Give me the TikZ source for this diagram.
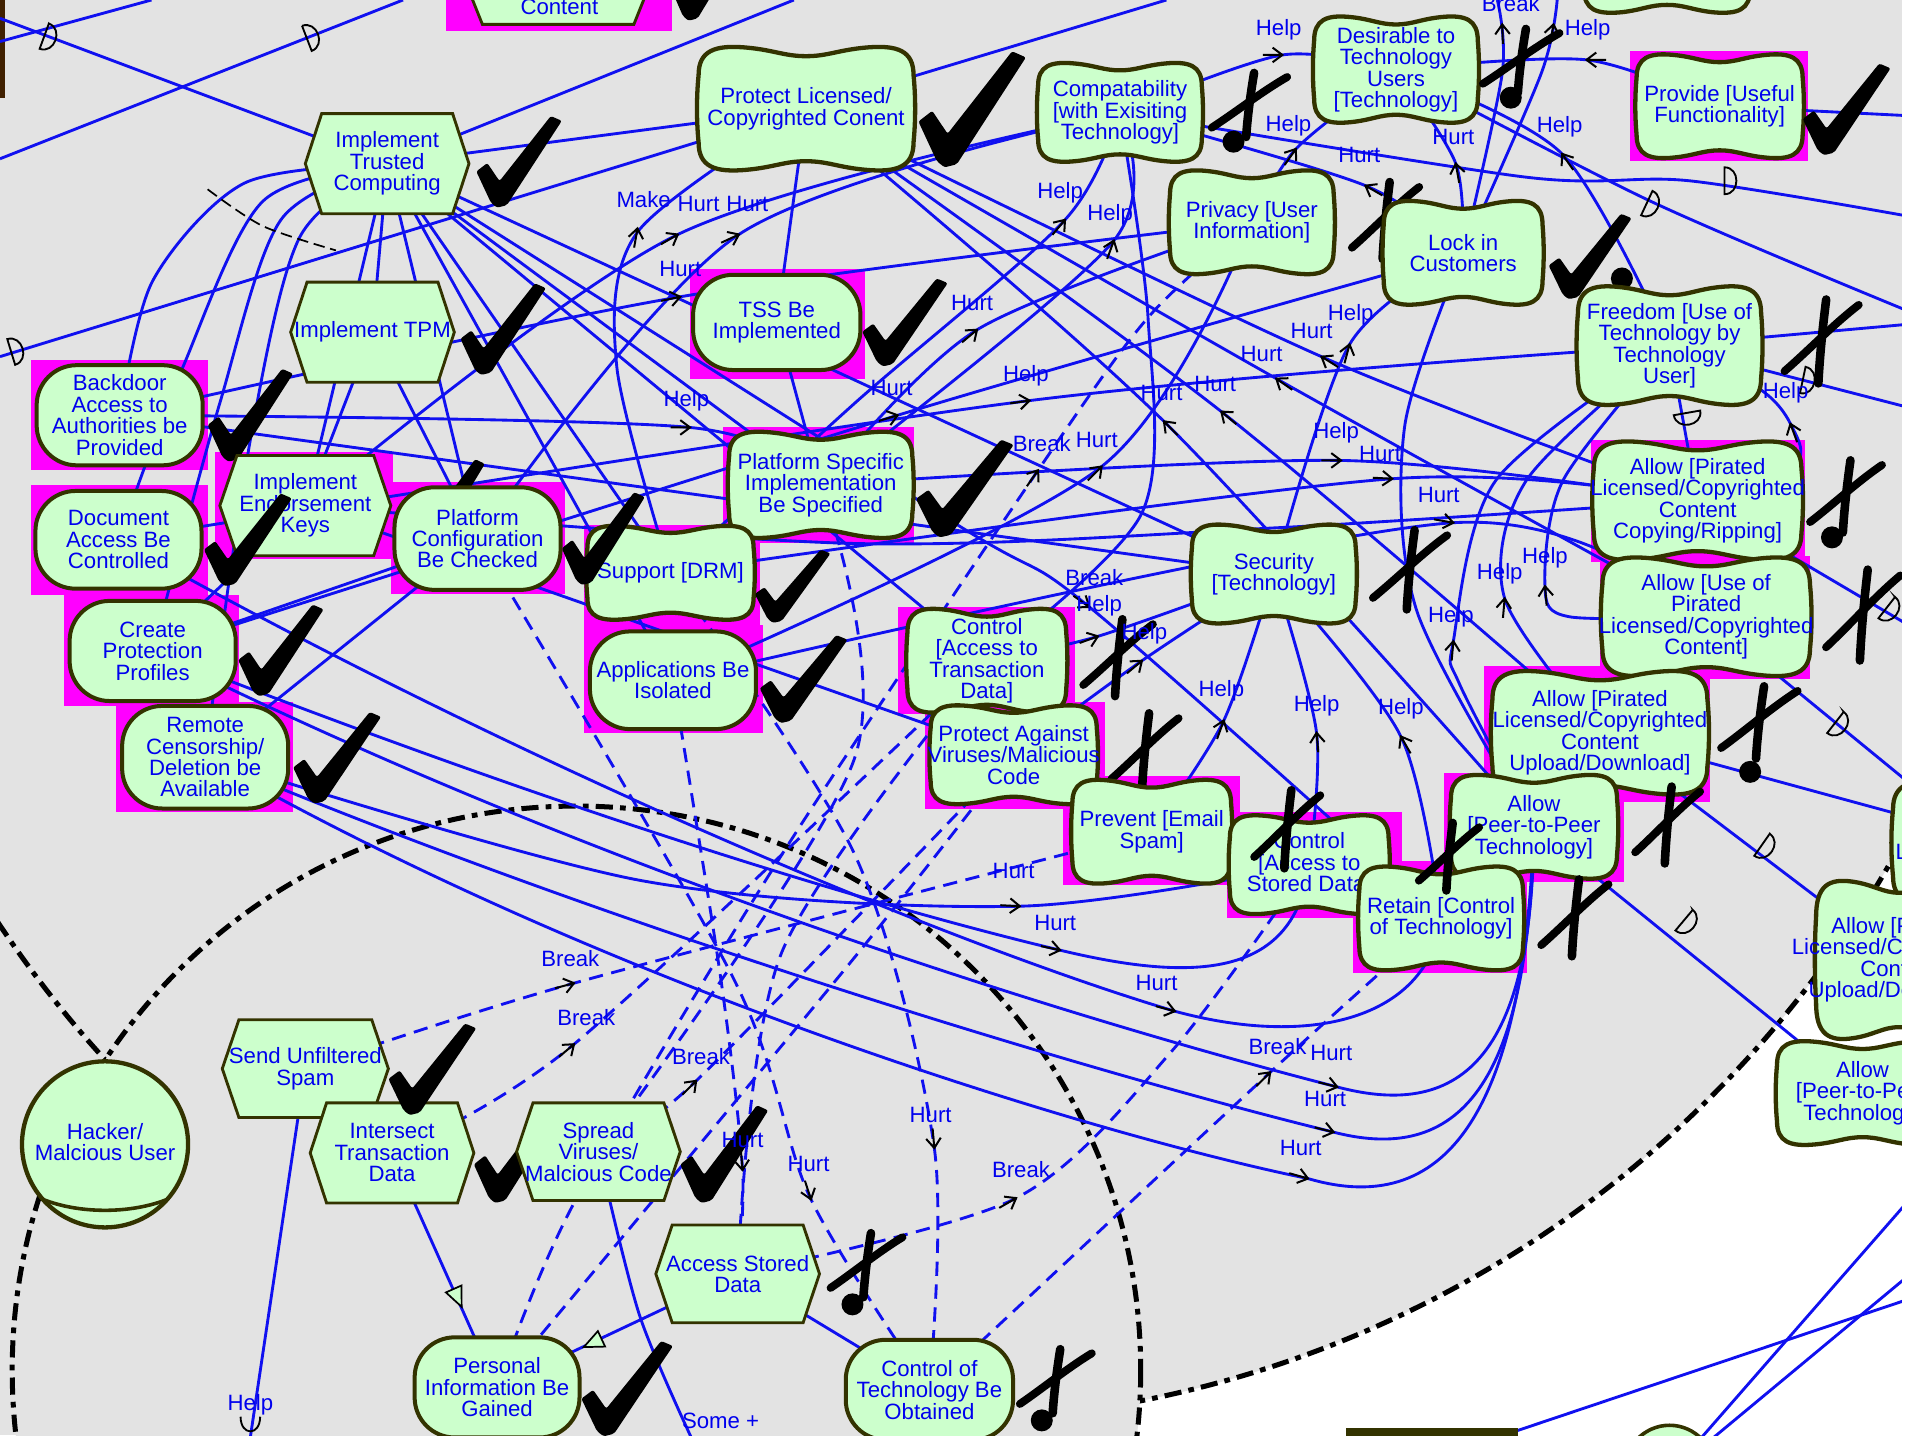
\documentclass[tikz,border=0pt]{standalone}
\usepackage{fontspec}
\setmainfont{Liberation Sans}
\pgfdeclarelayer{bgfill}
\pgfdeclarelayer{lines}
\pgfdeclarelayer{top}
\pgfsetlayers{bgfill,lines,main,top}
\definecolor{bgray}{HTML}{E3E3E3}
\definecolor{nfill}{HTML}{CCFFCC}
\definecolor{nborder}{HTML}{333300}
\definecolor{mag}{HTML}{FF00FF}
\definecolor{lblue}{HTML}{1010F0}
\definecolor{tblue}{HTML}{0000EE}
\tikzset{
 txt/.style={font=\fontsize{15.5}{15}\selectfont, text=tblue, align=center, inner sep=0pt},
 lab/.style={font=\fontsize{15.5}{15}\selectfont, text=tblue, inner sep=0pt},
 con/.style={draw=lblue, line width=2pt},
 dcon/.style={draw=lblue, line width=2pt, dash pattern=on 10pt off 6pt},
 sgshape/.style={fill=nfill, draw=nborder, line width=3pt},
 goalshape/.style={fill=nfill, draw=nborder, line width=2.8pt, rounded corners=28pt},
 taskshape/.style={fill=nfill, draw=nborder, line width=2pt},
 bound/.style={draw=black, line width=3.5pt, dash pattern=on 12pt off 5pt on 4pt off 5pt},
}
\newcommand\sgnode[6]{%
  \path[sgshape,shift={(#2,#3)}] ({-#4},{-0.55*#5})
   .. controls ({-#4},{-0.95*#5}) and ({-0.85*#4},{-1.05*#5}) .. ({-0.55*#4},{-#5})
   .. controls ({-0.3*#4},{-0.96*#5}) and ({-0.2*#4},{-0.86*#5}) .. (0,{-0.86*#5})
   .. controls ({0.2*#4},{-0.86*#5}) and ({0.3*#4},{-0.96*#5}) .. ({0.55*#4},{-#5})
   .. controls ({0.85*#4},{-1.05*#5}) and ({#4},{-0.95*#5}) .. ({#4},{-0.55*#5})
   .. controls ({1.02*#4},{-0.2*#5}) and ({1.02*#4},{0.2*#5}) .. ({#4},{0.55*#5})
   .. controls ({#4},{0.95*#5}) and ({0.85*#4},{1.05*#5}) .. ({0.55*#4},{#5})
   .. controls ({0.3*#4},{0.96*#5}) and ({0.2*#4},{0.86*#5}) .. (0,{0.86*#5})
   .. controls ({-0.2*#4},{0.86*#5}) and ({-0.3*#4},{0.96*#5}) .. ({-0.55*#4},{#5})
   .. controls ({-0.85*#4},{1.05*#5}) and ({-#4},{0.95*#5}) .. ({-#4},{0.55*#5})
   .. controls ({-1.02*#4},{0.2*#5}) and ({-1.02*#4},{-0.2*#5}) .. cycle;
  \node[txt] (#1) at (#2,#3) {#6};}
\newcommand\goalnode[6]{%
  \path[goalshape] ({#2-#4/2},{#3-#5/2}) rectangle ({#2+#4/2},{#3+#5/2});
  \node[txt] (#1) at (#2,#3) {#6};}
\newcommand\tasknode[6]{%
  \path[taskshape,shift={(#2,#3)}] ({-#4},0) -- ({-0.8*#4},{-#5}) -- ({0.8*#4},{-#5}) -- ({#4},0) -- ({0.8*#4},{#5}) -- ({-0.8*#4},{#5}) -- cycle;
  \node[txt] (#1) at (#2,#3) {#6};}
\newcommand\magbox[4]{\begin{pgfonlayer}{bgfill}\fill[mag] (#1,#2) rectangle (#3,#4);\end{pgfonlayer}}
\newcommand\chk[4]{%
  \fill[black, shift={(#1,#2)}, xscale=#3/70, yscale=#4/76, rounded corners=1.5pt]
   (0,46) -- (9,39) -- (19,54) -- (61,0) -- (70,4) -- (25,74) -- (17,76) -- (12,72) -- cycle;}
\newcommand\crs[4]{%
  \begin{scope}[shift={(#1,#2)}, xscale=#3/60, yscale=#4/65]
  \draw[black, line width=6pt, line cap=round] (34,2) .. controls (31,25) and (29,45) .. (28,64);
  \draw[black, line width=5.5pt, line cap=round] (59,6) .. controls (40,20) and (20,40) .. (2,55);
  \end{scope}}
\newcommand\bdot[2]{\fill[black] (#1,#2) circle (9);}
\newcommand\dmk[3]{\draw[black, line width=1.3pt, rotate around={#3:(#1,#2)}] ({#1-4},{#2-11}) -- ({#1-4},{#2+11}) .. controls ({#1+9},{#2+11}) and ({#1+9},{#2-11}) .. cycle;}
\newcommand\carr[3]{\draw[black, line width=1.4pt, rotate around={#3:(#1,#2)}] ({#1-16},#2) -- (#1,#2) ({#1-8},{#2-6}) -- (#1,#2) -- ({#1-8},{#2+6});}
\newcommand\mtri[3]{\filldraw[fill=nfill, draw=black, line width=1.2pt, rotate around={#3:(#1,#2)}] (#1,#2) -- ({#1-16},{#2-7}) -- ({#1-16},{#2+7}) -- cycle;}
\begin{document}
\begin{tikzpicture}[x=0.03cm,y=-0.03cm]
\useasboundingbox (0,0) rectangle (1568,1175);
% ---------- backgrounds
\begin{pgfonlayer}{bgfill}
\fill[white] (0,0) rectangle (1568,1175);
\fill[bgray] (758,254) circle (910);
\fill[bgray] (0,700) rectangle (472,1175);
\draw[bound] (758,254) circle (910);
\fill[bgray] (472,1122) circle (462);
\draw[bound] (472,1122) circle (462);
\fill[black!75!orange] (0,0) rectangle (4,80);
\end{pgfonlayer}
% ---------- nodes
\magbox{365}{-60}{550}{25}
\path[taskshape,shift={(457,-20)}] (-78,0) -- (-62,-40) -- (62,-40) -- (78,0) -- (62,40) -- (-62,40) -- cycle;
\node[txt] (Cont) at (458,6) {Content};
\chk{548}{-58}{65}{75}
\path[sgshape,shift={(1365,-32)}] (-68,-23) .. controls (-68,-40) and (-58,-44) .. (-37,-42) .. controls (-20,-40) and (-14,-36) .. (0,-36) .. controls (14,-36) and (20,-40) .. (37,-42) .. controls (58,-44) and (68,-40) .. (68,-23) -- (68,23) .. controls (68,40) and (58,44) .. (37,42) .. controls (20,40) and (14,36) .. (0,36) .. controls (-14,36) and (-20,40) .. (-37,42) .. controls (-58,44) and (-68,40) .. (-68,23) -- cycle;
\coordinate (TopR) at (1365,-32);

\sgnode{PL}{660}{89}{88}{50}{Protect Licensed/\\Copyrighted Conent}
\chk{752}{42}{88}{95}
\tasknode{ITC}{317}{134}{67}{41}{Implement\\Trusted\\Computing}
\chk{390}{95}{70}{75}
\tasknode{TPM}{305}{272}{67}{41}{Implement TPM}
\chk{377}{232}{70}{75}
\sgnode{Compat}{917}{92}{67}{40}{Compatability\\{}[with Exisiting\\Technology]}
\crs{990}{58}{65}{55}\bdot{1010}{116}
\sgnode{Desir}{1143}{57}{67}{43}{Desirable to\\Technology\\Users\\{}[Technology]}
\crs{1212}{22}{66}{55}\bdot{1237}{80}
\magbox{1335}{42}{1480}{132}
\sgnode{Provide}{1408}{87}{68}{42}{Provide [Useful\\Functionality]}
\chk{1476}{52}{72}{75}
\sgnode{Privacy}{1025}{182}{67}{42}{Privacy [User\\Information]}
\crs{1105}{147}{58}{66}
\sgnode{LockIn}{1198}{207}{65}{42}{Lock in\\Customers}
\chk{1268}{175}{68}{70}\bdot{1328}{228}
\sgnode{Freedom}{1367}{283}{75}{48}{Freedom [Use of\\Technology by\\Technology\\User]}
\crs{1459}{243}{64}{72}
\magbox{565}{220}{708}{310}
\goalnode{TSS}{636}{264}{137}{78}{TSS Be\\Implemented}
\chk{706}{228}{70}{72}
\magbox{25}{295}{170}{385}
\goalnode{Backdoor}{98}{340}{136}{82}{Backdoor\\Access to\\Authorities be\\Provided}
\chk{170}{302}{70}{76}
\magbox{176}{370}{322}{458}
\tasknode{IEK}{250}{414}{70}{41}{Implement\\Endorsement\\Keys}
\chk{335}{376}{62}{72}
\magbox{592}{350}{748}{445}
\sgnode{PSI}{672}{397}{75}{43}{Platform Specific\\Implementation\\Be Specified}
\chk{750}{360}{80}{80}
\magbox{478}{430}{622}{513}
\sgnode{DRM}{549}{469}{68}{38}{Support [DRM]}
\chk{618}{450}{62}{60}
\magbox{478}{512}{625}{600}
\goalnode{Apps}{551}{557}{136}{80}{Applications Be\\Isolated}
\chk{622}{520}{72}{72}
\magbox{320}{395}{463}{486}
\goalnode{PCB}{391}{441}{136}{84}{Platform\\Configuration\\Be Checked}
\chk{460}{403}{68}{76}
\magbox{25}{397}{170}{487}
\goalnode{DocAcc}{97}{442}{136}{80}{Document\\Access Be\\Controlled}
\chk{167}{404}{72}{76}
\magbox{52}{487}{196}{578}
\goalnode{CPP}{125}{533}{136}{82}{Create\\Protection\\Profiles}
\chk{195}{495}{70}{75}
\magbox{95}{575}{240}{665}
\goalnode{RCD}{168}{620}{136}{84}{Remote\\Censorship/\\Deletion be\\Available}
\chk{240}{583}{72}{75}
\sgnode{Security}{1043}{470}{67}{40}{Security\\{}[Technology]}
\crs{1122}{432}{64}{68}
\magbox{735}{497}{880}{585}
\sgnode{CtrlTrans}{808}{541}{65}{42}{Control\\{}[Access to\\Transaction\\Data]}
\crs{885}{505}{60}{66}
\magbox{757}{575}{905}{662}
\sgnode{PAV}{830}{618}{68}{40}{Protect Against\\Viruses/Malicious\\Code}
\crs{908}{582}{58}{66}
\magbox{1303}{360}{1478}{460}
\sgnode{Copy}{1390}{410}{85}{48}{Allow [Pirated\\Licensed/Copyrighted\\Content\\Copying/Ripping]}
\magbox{1310}{455}{1482}{556}
\sgnode{Use}{1397}{505}{85}{48}{Allow [Use of\\Pirated\\Licensed/Copyrighted\\Content]}
\magbox{1215}{545}{1400}{657}
\sgnode{Upload}{1310}{600}{88}{50}{Allow [Pirated\\Licensed/Copyrighted\\Content\\Upload/Download]}
\crs{1480}{375}{62}{62}\bdot{1500}{440}
\crs{1493}{464}{64}{78}
\crs{1407}{560}{66}{62}\bdot{1433}{632}
\magbox{870}{635}{1015}{725}
\sgnode{Spam}{943}{681}{65}{42}{Prevent [Email\\Spam]}
\magbox{1005}{665}{1148}{752}
\sgnode{CtrlStored}{1072}{708}{65}{40}{Control\\{}[Access to\\Stored Data]}
\magbox{1182}{633}{1330}{722}
\sgnode{P2P}{1256}{677}{68}{42}{Allow\\{}[Peer-to-Peer\\Technology]}
\magbox{1108}{705}{1250}{797}
\sgnode{Retain}{1180}{752}{67}{42}{Retain [Control\\of Technology]}
\crs{1025}{645}{57}{67}
\crs{1160}{672}{52}{58}
\crs{1337}{642}{56}{66}
\crs{1260}{718}{58}{66}
\sgnode{RightC}{1640}{690}{90}{50}{Allow [Use of\\Pirated\\Licensed/Copyrighted\\Content]}
\sgnode{RightA}{1555}{786}{68}{64}{Allow [Pirated\\Licensed/Copyrighted\\Content\\Upload/Download]}
\sgnode{RightB}{1525}{895}{70}{42}{Allow\\{}[Peer-to-Peer\\Technology]}
\path[fill=nfill,draw=nborder,line width=3pt] (86,937) circle (68);
\draw[nborder,line width=2.5pt] (35,982) .. controls (65,994) and (107,994) .. (137,982);
\node[txt] (Hacker) at (86,935) {Hacker/\\Malcious User};
\tasknode{SUS}{250}{875}{68}{40}{Send Unfiltered\\Spam}
\tasknode{ITD}{321}{944}{67}{41}{Intersect\\Transaction\\Data}
\chk{318}{838}{72}{75}
\chk{388}{905}{72}{80}
\tasknode{SVM}{490}{943}{67}{40}{Spread\\Viruses/\\Malcious Code}
\chk{557}{905}{72}{80}
\tasknode{ASD}{604}{1043}{67}{40}{Access Stored\\Data}
\crs{678}{1008}{62}{55}\bdot{698}{1068}
\goalnode{PIG}{407}{1136}{135}{82}{Personal\\Information Be\\Gained}
\chk{476}{1098}{75}{78}
\goalnode{CTO}{761}{1138}{137}{82}{Control of\\Technology Be\\Obtained}
\crs{833}{1103}{62}{55}\bdot{853}{1163}
\fill[nborder] (1102,1169) rectangle (1243,1180);
\coordinate (BotR) at (1172,1195);
\path[fill=nfill,draw=nborder,line width=2.5pt] (1367,1207) ellipse (38 and 40);
\coordinate (BotC) at (1367,1207);
% ---------- edge coordinates
\coordinate (e1) at (0,15);
\coordinate (e2) at (0,130);
\coordinate (e3) at (330,0);
\coordinate (e4) at (0,34);
\coordinate (e5) at (124,0);
\coordinate (e6) at (0,292);
\coordinate (e7) at (650,0);
\coordinate (e8) at (955,0);
\coordinate (e9) at (1226,0);
\coordinate (e10) at (1275,0);
\coordinate (e11) at (1568,178);
\coordinate (e12) at (1568,257);
\coordinate (e13) at (1568,265);
\coordinate (e14) at (1568,335);
\coordinate (e15) at (1568,95);
\coordinate (e16) at (1568,515);
\coordinate (e17) at (1568,645);
\coordinate (e18) at (203,1190);
\coordinate (e19) at (572,1190);
\coordinate (e20) at (1568,977);
\coordinate (e21) at (1568,1040);
\coordinate (e22) at (1568,1062);
% ---------- connectors
\begin{pgfonlayer}{lines}
\draw[con] (e1) -- (ITC.center);
\draw[con] (e2) -- (e3);
\draw[con] (e4) -- (e5);
\draw[con] (e6) -- (PL.center);
\draw[con] (ITC.center) -- (e7);
\draw[con] (ITC.center) -- (PL.center);
\draw[con] (PL.center) -- (TSS.center);
\draw[con] (TSS.center) -- (PSI.center);
\draw[con] (PL.center) -- (e8);
\draw[con] (ITC.center) -- (TPM.center);
\draw[con] plot[smooth] coordinates {(ITC.center) (200,150) (125,230) (Backdoor.center)};
\draw[con] plot[smooth] coordinates {(ITC.center) (215,165) (150,300) (DocAcc.center)};
\draw[con] plot[smooth] coordinates {(ITC.center) (230,180) (180,330) (CPP.center)};
\draw[con] plot[smooth] coordinates {(ITC.center) (245,195) (205,360) (RCD.center)};
\draw[con] (ITC.center) -- (IEK.center);
\draw[con] (ITC.center) -- (PCB.center);
\draw[con] (ITC.center) -- (PSI.center);
\draw[con] (ITC.center) -- (DRM.center);
\draw[con] (ITC.center) -- (Apps.center);
\draw[con] (ITC.center) -- (Security.center);
\draw[con] (ITC.center) -- (CtrlTrans.center);
\draw[con] plot[smooth] coordinates {(ITC.center) (778,426) (892,497) (Retain.center)};
\draw[con] (TPM.center) -- (IEK.center);
\draw[con] (TPM.center) -- (PCB.center);
\draw[con] plot[smooth] coordinates {(DRM.center) (505,300) (522,190) (PL.center)};
\draw[con] plot[smooth] coordinates {(IEK.center) (555,192) (Compat.center)};
\draw[con] plot[smooth] coordinates {(PCB.center) (605,192) (Compat.center)};
\draw[con] plot[smooth] coordinates {(Backdoor.center) (557,243) (Privacy.center)};
\draw[con] plot[smooth] coordinates {(Backdoor.center) (565,350) (PSI.center)};
\draw[con] plot[smooth] coordinates {(CPP.center) (735,340) (LockIn.center)};
\draw[con] plot[smooth] coordinates {(DocAcc.center) (843,328) (Freedom.center)};
\draw[con] plot[smooth] coordinates {(PSI.center) (800,270) (Privacy.center)};
\draw[con] plot[smooth] coordinates {(DRM.center) (700,330) (872,180) (Compat.center)};
\draw[con] plot[smooth] coordinates {(PSI.center) (912,197) (Compat.center)};
\draw[con] plot[smooth] coordinates {(Apps.center) (902,382) (Privacy.center)};
\draw[con] plot[smooth] coordinates {(P2P.center) (953,345) (PL.center)};
\draw[con] plot[smooth] coordinates {(Upload.center) (1000,337) (PL.center)};
\draw[con] plot[smooth] coordinates {(Use.center) (1045,310) (PL.center)};
\draw[con] plot[smooth] coordinates {(Copy.center) (1082,292) (PL.center)};
\draw[con] plot[smooth] coordinates {(Security.center) (1105,282) (LockIn.center)};
\draw[con] plot[smooth] coordinates {(PSI.center) (1098,377) (Copy.center)};
\draw[con] plot[smooth] coordinates {(DRM.center) (1140,392) (Copy.center)};
\draw[con] plot[smooth] coordinates {(Apps.center) (1190,428) (Use.center)};
\draw[con] plot[smooth] coordinates {(Copy.center) (1470,380) (1466,347) (1440,318) (Freedom.center)};
\draw[con] plot[smooth] coordinates {(Upload.center) (1232,490) (1250,393) (Freedom.center)};
\draw[con] plot[smooth] coordinates {(Use.center) (1285,505) (1265,480) (1280,393) (Freedom.center)};
\draw[con] plot[smooth] coordinates {(P2P.center) (1195,560) (1190,525) (1225,393) (Freedom.center)};
\draw[con] plot[smooth] coordinates {(Spam.center) (1002,590) (Security.center)};
\draw[con] plot[smooth] coordinates {(CtrlStored.center) (1078,600) (Security.center)};
\draw[con] plot[smooth] coordinates {(Retain.center) (1147,603) (Security.center)};
\draw[con] plot[smooth] coordinates {(CtrlTrans.center) (899,521) (Security.center)};
\draw[con] plot[smooth] coordinates {(PAV.center) (935,541) (Security.center)};
\draw[con] plot[smooth] coordinates {(Compat.center) (1050,45) (Desir.center)};
\draw[con] plot[smooth] coordinates {(Privacy.center) (1061,122) (Desir.center)};
\draw[con] plot[smooth] coordinates {(LockIn.center) (1118,152) (Compat.center)};
\draw[con] plot[smooth] coordinates {(LockIn.center) (1192,134) (Desir.center)};
\draw[con] plot[smooth] coordinates {(Freedom.center) (1279,126) (Desir.center)};
\draw[con] plot[smooth] coordinates {(Provide.center) (1299,49) (Desir.center)};
\draw[con] plot[smooth] coordinates {(LockIn.center) (1230,60) (e9)};
\draw[con] plot[smooth] coordinates {(LockIn.center) (1262,60) (e10)};
\draw[con] plot[smooth] coordinates {(Compat.center) (1249,145) (1383,148) (e11)};
\draw[con] plot[smooth] coordinates {(Desir.center) (1352,165) (e12)};
\draw[con] (Freedom.center) -- (e13);
\draw[con] (Freedom.center) -- (e14);
\draw[con] (Provide.center) -- (e15);
\draw[con] (Freedom.center) -- (Copy.center);
\draw[con] (Copy.center) -- (e16);
\draw[con] (Use.center) -- (e17);
\draw[con] (Upload.center) -- (RightA.center);
\draw[con] (P2P.center) -- (RightB.center);
\draw[con] (Upload.center) -- (RightC.center);
\draw[con] plot[smooth] coordinates {(LockIn.center) (1150,350) (1160,500) (P2P.center)};
\draw[con] plot[smooth] coordinates {(Compat.center) (940,260) (935,420) (CtrlTrans.center)};
\draw[con] (PCB.center) -- (CPP.center);
\draw[con] (PCB.center) -- (RCD.center);
\draw[con] (IEK.center) -- (CPP.center);
\draw[con] (IEK.center) -- (PAV.center);
\draw[con] (Backdoor.center) -- (Security.center);
\draw[con] plot[smooth] coordinates {(IEK.center) (700,445) (1048,432) (Copy.center)};
\draw[con] plot[smooth] coordinates {(RCD.center) (525,721) (835,742) (CtrlStored.center)};
\draw[con] (CPP.center) .. controls (500,680) and (750,750) .. (868,778) .. controls (980,805) and (1060,800) .. (CtrlStored.center);
\draw[con] (DocAcc.center) .. controls (450,640) and (800,780) .. (962,828) .. controls (1080,860) and (1170,830) .. (Retain.center);
\draw[con] (CPP.center) .. controls (500,720) and (900,840) .. (1095,890) .. controls (1200,918) and (1255,860) .. (P2P.center);
\draw[con] (RCD.center) .. controls (500,760) and (900,880) .. (1092,927) .. controls (1200,955) and (1252,880) .. (P2P.center);
\draw[con] (RCD.center) .. controls (500,810) and (900,930) .. (1071,965) .. controls (1190,1000) and (1248,900) .. (P2P.center);
\draw[dcon] plot[smooth] coordinates {(SUS.center) (470,805) (Spam.center)};
\draw[dcon] plot[smooth] coordinates {(ITD.center) (470,855) (CtrlTrans.center)};
\draw[dcon] plot[smooth] coordinates {(SVM.center) (570,885) (PAV.center)};
\draw[dcon] plot[smooth] coordinates {(Apps.center) (590,800) (608,958) (ASD.center)};
\draw[dcon] plot[smooth] coordinates {(PCB.center) (600,800) (664,982) (CTO.center)};
\draw[dcon] plot[smooth] coordinates {(DRM.center) (700,700) (765,940) (CTO.center)};
\draw[dcon] plot[smooth] coordinates {(ASD.center) (832,981) (960,860) (CtrlStored.center)};
\draw[dcon] plot[smooth] coordinates {(CTO.center) (1040,878) (Retain.center)};
\draw[dcon] plot[smooth] coordinates {(PIG.center) (470,985) (640,700) (850,385) (940,260) (Privacy.center)};
\draw[dcon] plot[smooth] coordinates {(SVM.center) (700,620) (PSI.center)};
\draw[dcon] plot[smooth] coordinates {(ASD.center) (640,780) (CtrlTrans.center)};
\draw[dcon] plot[smooth] coordinates {(PIG.center) (698,786) (PAV.center)};
\draw[con] (ITD.center) -- (PIG.center);
\draw[con] (ASD.center) -- (PIG.center);
\draw[con] (ASD.center) -- (CTO.center);
\draw[con] (SUS.center) -- (e18);
\draw[con] plot[smooth] coordinates {(SVM.center) (524,1078) (e19)};
\draw[con] (e20) -- (BotC);
\draw[con] (e21) -- (BotC);
\draw[con] (e22) -- (BotR);
\end{pgfonlayer}
% ---------- decorations on links
\draw[black, line width=1.2pt, dash pattern=on 8pt off 4pt] plot[smooth] coordinates {(170,155) (215,185) (275,205)};
\dmk{40}{31}{-20}
\dmk{255}{30}{21}
\dmk{13}{287}{17}
\dmk{1416}{148}{0}
\dmk{1352}{168}{-25}
\dmk{1480}{312}{-12}
\dmk{1382}{342}{-80}
\dmk{1548}{500}{-38}
\dmk{1506}{594}{-38}
\dmk{1446}{694}{-35}
\dmk{1382}{756}{-40}
\mtri{378}{1070}{-66}
\mtri{478}{1103}{205}
\draw[black, line width=1.3pt] (197,1160) .. controls (197,1176) and (213,1176) .. (213,1160);
\carr{522}{187}{80}
\carr{555}{192}{30}
\carr{605}{192}{25}
\carr{557}{243}{12}
\carr{565}{350}{0}
\carr{735}{340}{17}
\carr{843}{328}{8}
\carr{800}{270}{40}
\carr{872}{180}{50}
\carr{912}{197}{70}
\carr{902}{382}{45}
\carr{850}{385}{55}
\carr{953}{345}{135}
\carr{1000}{337}{140}
\carr{1045}{310}{145}
\carr{1082}{292}{148}
\carr{1105}{282}{75}
\carr{1098}{377}{0}
\carr{1140}{392}{-3}
\carr{1190}{428}{-10}
\carr{1466}{347}{110}
\carr{1232}{490}{85}
\carr{1265}{480}{95}
\carr{1190}{525}{85}
\carr{1002}{590}{70}
\carr{1078}{600}{95}
\carr{1147}{603}{120}
\carr{892}{497}{-35}
\carr{899}{521}{20}
\carr{935}{541}{40}
\carr{1050}{45}{0}
\carr{1061}{122}{55}
\carr{1118}{152}{150}
\carr{1192}{134}{100}
\carr{1279}{126}{125}
\carr{1299}{49}{180}
\carr{1230}{20}{92}
\carr{1272}{20}{80}
\carr{835}{742}{-3}
\carr{868}{778}{-12}
\carr{962}{828}{-15}
\carr{1095}{890}{-14}
\carr{1092}{927}{-14}
\carr{1071}{965}{-16}
\carr{470}{805}{15}
\carr{470}{855}{40}
\carr{570}{885}{45}
\carr{608}{958}{-85}
\carr{664}{982}{-72}
\carr{765}{940}{-85}
\carr{832}{981}{30}
\carr{1040}{878}{45}
% ---------- labels
\node[lab] (l1) at (527,163) {Make};
\node[lab] (l2) at (572,167) {Hurt};
\node[lab] (l3) at (612,167) {Hurt};
\node[lab] (l4) at (557,220) {Hurt};
\node[lab] (l5) at (562,328) {Help};
\node[lab] (l6) at (730,318) {Hurt};
\node[lab] (l7) at (840,308) {Help};
\node[lab] (l8) at (796,248) {Hurt};
\node[lab] (l9) at (868,158) {Help};
\node[lab] (l10) at (909,176) {Help};
\node[lab] (l11) at (898,360) {Hurt};
\node[lab] (l12) at (853,363) {Break};
\node[lab] (l13) at (951,322) {Hurt};
\node[lab] (l14) at (995,314) {Hurt};
\node[lab] (l15) at (1033,290) {Hurt};
\node[lab] (l16) at (1074,271) {Hurt};
\node[lab] (l17) at (1106,258) {Help};
\node[lab] (l18) at (1094,354) {Help};
\node[lab] (l19) at (1130,372) {Hurt};
\node[lab] (l20) at (1178,405) {Hurt};
\node[lab] (l21) at (1462,322) {Help};
\node[lab] (l22) at (1228,470) {Help};
\node[lab] (l23) at (1265,457) {Help};
\node[lab] (l24) at (1188,505) {Help};
\node[lab] (l25) at (1000,566) {Help};
\node[lab] (l26) at (1078,578) {Help};
\node[lab] (l27) at (1147,580) {Help};
\node[lab] (l28) at (896,473) {Break};
\node[lab] (l29) at (900,496) {Help};
\node[lab] (l30) at (937,519) {Help};
\node[lab] (l31) at (1047,24) {Help};
\node[lab] (l32) at (1055,103) {Help};
\node[lab] (l33) at (1113,127) {Hurt};
\node[lab] (l34) at (1190,112) {Hurt};
\node[lab] (l35) at (1277,104) {Help};
\node[lab] (l36) at (1300,24) {Help};
\node[lab] (l37) at (1237,3) {Break};
\node[lab] (l38) at (830,713) {Hurt};
\node[lab] (l39) at (864,756) {Hurt};
\node[lab] (l40) at (947,805) {Hurt};
\node[lab] (l41) at (1090,862) {Hurt};
\node[lab] (l42) at (1085,900) {Hurt};
\node[lab] (l43) at (1065,940) {Hurt};
\node[lab] (l44) at (467,785) {Break};
\node[lab] (l45) at (480,833) {Break};
\node[lab] (l46) at (574,865) {Break};
\node[lab] (l47) at (608,933) {Hurt};
\node[lab] (l48) at (662,953) {Hurt};
\node[lab] (l49) at (762,913) {Hurt};
\node[lab] (l50) at (836,958) {Break};
\node[lab] (l51) at (1046,857) {Break};
\node[lab] (l52) at (205,1150) {Help};
\node[lab] (l53) at (590,1163) {Some +};
% ---------- white strip at the right edge (outside the captured view)
\begin{pgfonlayer}{top}
\fill[white] (1557,-5) rectangle (1575,1180);
\end{pgfonlayer}
\end{tikzpicture}
\end{document}
